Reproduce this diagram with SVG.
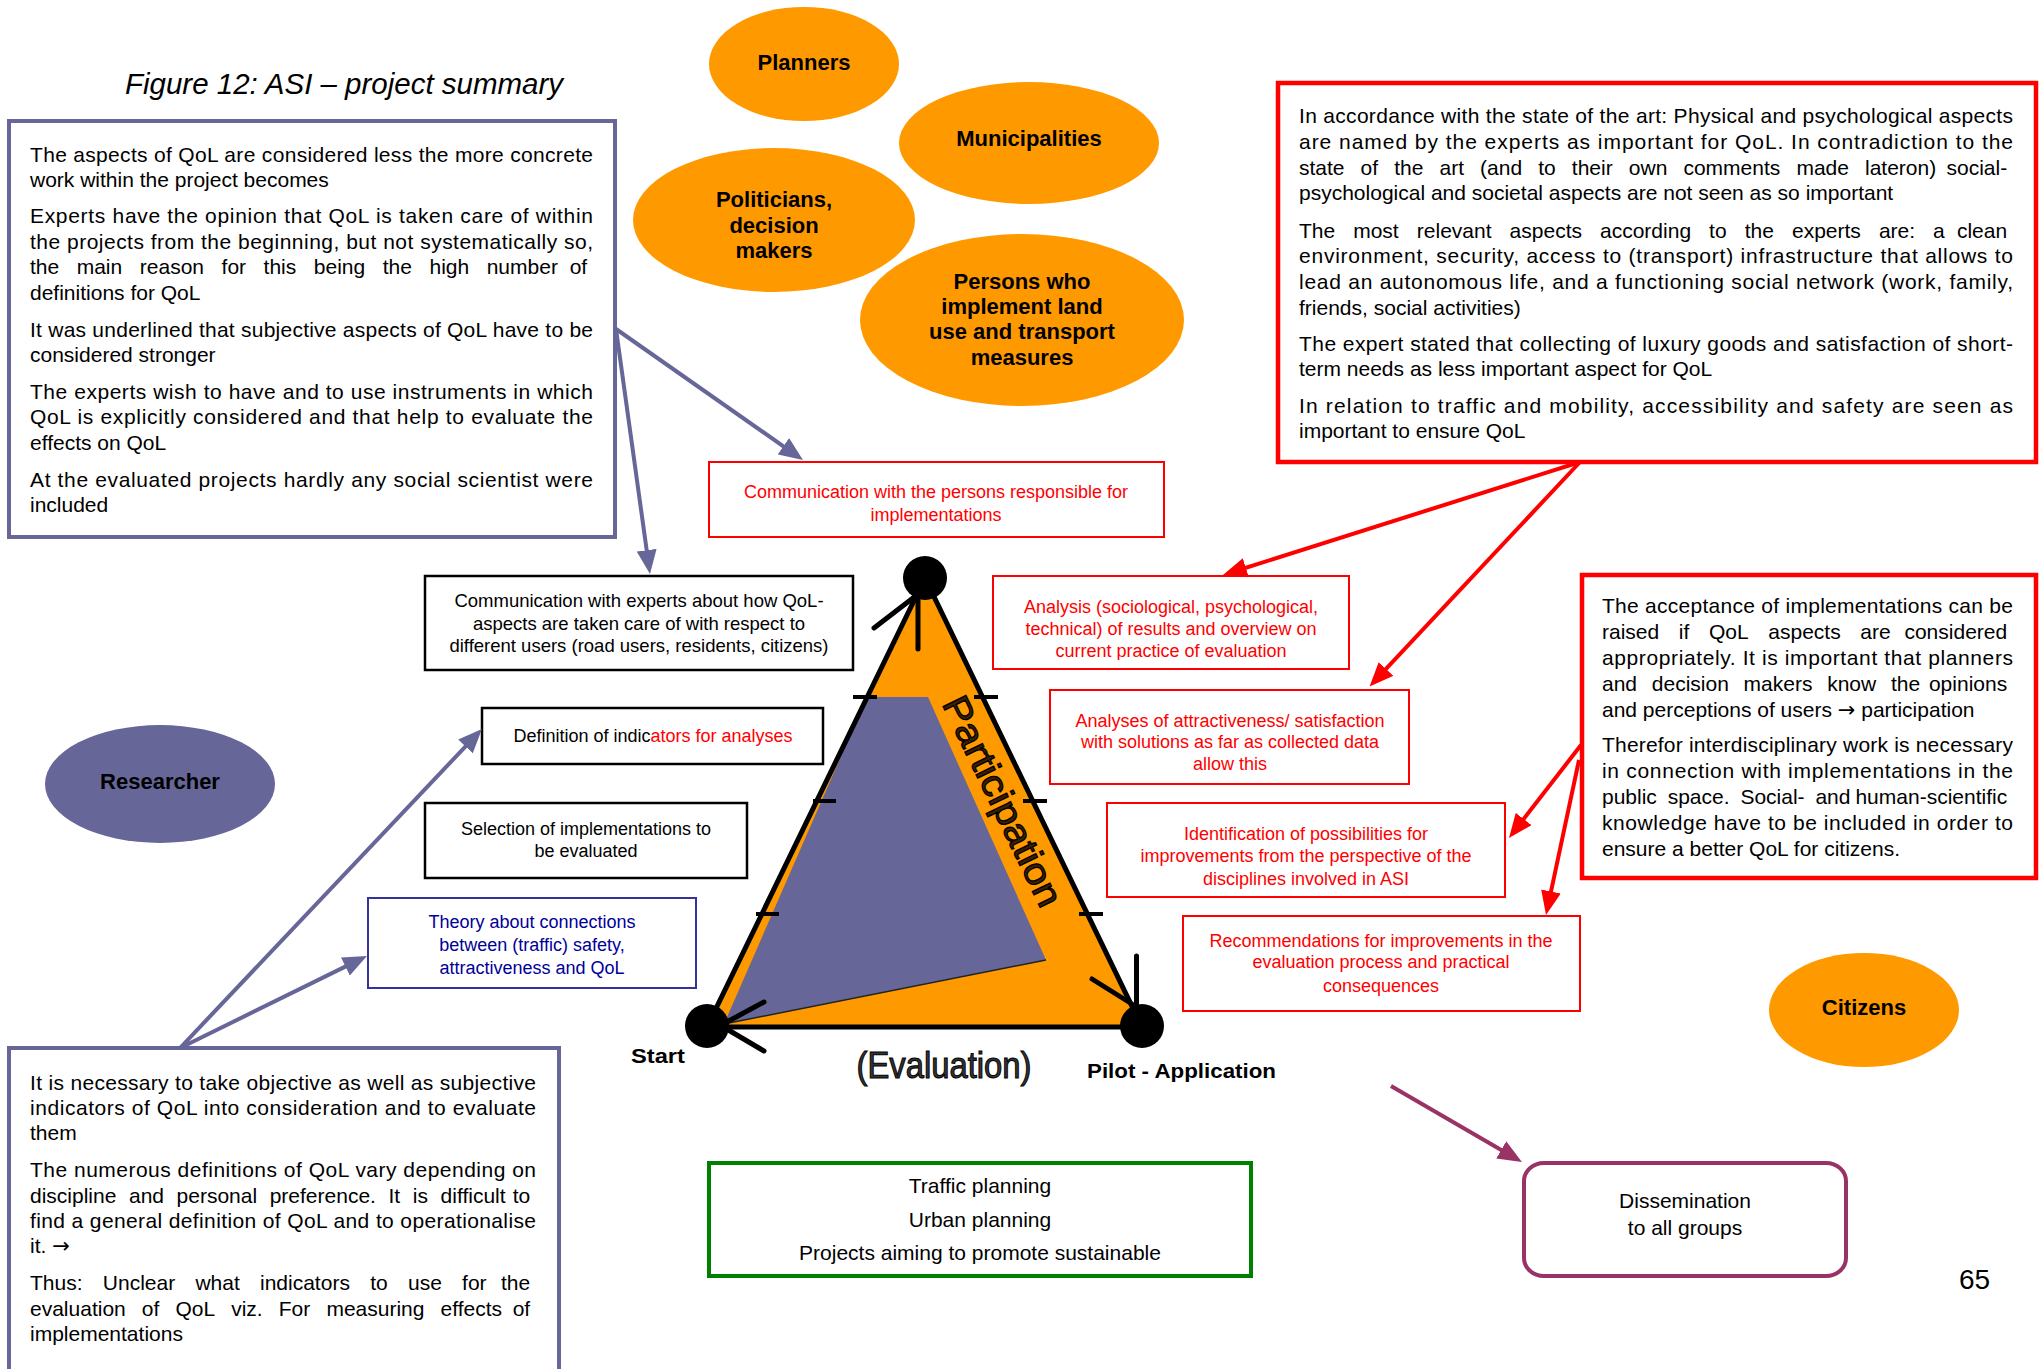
<svg xmlns="http://www.w3.org/2000/svg" width="2044" height="1369" viewBox="0 0 2044 1369">
  <style>
    .body { font-family: "Liberation Sans", Arial, sans-serif; font-size: 21px; fill: #000; }
    .small { font-family: "Liberation Sans", Arial, sans-serif; font-size: 18px; text-anchor: middle; }
    .mid { font-family: "Liberation Sans", Arial, sans-serif; font-size: 21px; text-anchor: middle; fill: #000; }
    .red { fill: #ff0000; }
    .navy { fill: #000099; }
    .blk { fill: #000; }
    .end { text-anchor: end; }
    .arw { font-family: "DejaVu Sans", sans-serif; }
    .bold { font-family: "Liberation Sans", Arial, sans-serif; font-weight: bold; font-size: 22px; text-anchor: middle; fill: #000; }
    .boxP { fill: #fff; stroke: #666699; stroke-width: 4; }
    .boxR { fill: #fff; stroke: #ff0000; stroke-width: 4.5; }
    .boxr { fill: #fff; stroke: #ff0000; stroke-width: 2; }
    .boxK { fill: #fff; stroke: #000; stroke-width: 2.5; }
    .orange { fill: #ff9900; }
    .conP { stroke: #666699; stroke-width: 4; fill: none; marker-end: url(#headP); }
    .conR { stroke: #ff0000; stroke-width: 4; fill: none; marker-end: url(#headR); }
    .conM { stroke: #993366; stroke-width: 4; fill: none; marker-end: url(#headM); }
    .barb { stroke: #000; stroke-width: 5; stroke-linecap: round; fill: none; }
    .tick { stroke: #000; stroke-width: 4; }
  </style>
  <defs>
    <marker id="headP" markerUnits="userSpaceOnUse" markerWidth="24" markerHeight="20" refX="14" refY="10" orient="auto">
      <path d="M0,0 L24,10 L0,20 z" fill="#666699"/>
    </marker>
    <marker id="headR" markerUnits="userSpaceOnUse" markerWidth="24" markerHeight="20" refX="14" refY="10" orient="auto">
      <path d="M0,0 L24,10 L0,20 z" fill="#ff0000"/>
    </marker>
    <marker id="headM" markerUnits="userSpaceOnUse" markerWidth="24" markerHeight="20" refX="14" refY="10" orient="auto">
      <path d="M0,0 L24,10 L0,20 z" fill="#993366"/>
    </marker>
    <clipPath id="clipAnalysis"><rect x="993" y="576" width="356" height="84"/></clipPath>
    <clipPath id="clipPlanning"><rect x="709" y="1162" width="543" height="102"/></clipPath>
  </defs>

  <rect width="2044" height="1369" fill="#fff"/>

  <!-- caption -->
  <text id="title" x="125" y="94" font-family="'Liberation Sans', Arial, sans-serif" font-style="italic" font-size="29" textLength="438" lengthAdjust="spacingAndGlyphs">Figure 12: ASI – project summary</text>

  <!-- expert findings (top left) -->
  <g id="expert-findings">
    <rect class="boxP" x="9" y="121" width="606" height="416"/>
    <text class="body">
      <tspan x="30" y="162" textLength="563" lengthAdjust="spacing">The aspects of QoL are considered less the more concrete</tspan>
      <tspan x="30" y="187">work within the project becomes</tspan>
      <tspan x="30" y="223" textLength="563" lengthAdjust="spacing">Experts have the opinion that QoL is taken care of within</tspan>
      <tspan x="30" y="249" textLength="563" lengthAdjust="spacing">the projects from the beginning, but not systematically so,</tspan>
      <tspan x="30" y="274">the</tspan><tspan x="76.7">main</tspan><tspan x="139.8">reason</tspan><tspan x="221.6">for</tspan><tspan x="263.6">this</tspan><tspan x="313.8">being</tspan><tspan x="382.7">the</tspan><tspan x="429.5">high</tspan><tspan x="486.7">number</tspan><tspan class="end" x="593">of</tspan>
      <tspan x="30" y="300">definitions for QoL</tspan>
      <tspan x="30" y="337" textLength="563" lengthAdjust="spacing">It was underlined that subjective aspects of QoL have to be</tspan>
      <tspan x="30" y="362">considered stronger</tspan>
      <tspan x="30" y="399" textLength="563" lengthAdjust="spacing">The experts wish to have and to use instruments in which</tspan>
      <tspan x="30" y="424" textLength="563" lengthAdjust="spacing">QoL is explicitly considered and that help to evaluate the</tspan>
      <tspan x="30" y="450">effects on QoL</tspan>
      <tspan x="30" y="487" textLength="563" lengthAdjust="spacing">At the evaluated projects hardly any social scientist were</tspan>
      <tspan x="30" y="512">included</tspan>
    </text>
  </g>

  <!-- stakeholder groups -->
  <g id="planners">
    <ellipse class="orange" cx="804" cy="64" rx="95" ry="57"/>
    <text class="bold" x="804" y="70">Planners</text>
  </g>
  <g id="municipalities">
    <ellipse class="orange" cx="1029" cy="143" rx="130" ry="61"/>
    <text class="bold" x="1029" y="146">Municipalities</text>
  </g>
  <g id="politicians">
    <ellipse class="orange" cx="774" cy="220" rx="141" ry="72"/>
    <text class="bold"><tspan x="774" y="207">Politicians,</tspan><tspan x="774" y="233">decision</tspan><tspan x="774" y="258">makers</tspan></text>
  </g>
  <g id="implementers">
    <ellipse class="orange" cx="1022" cy="320" rx="162" ry="86"/>
    <text class="bold"><tspan x="1022" y="289">Persons who</tspan><tspan x="1022" y="314">implement land</tspan><tspan x="1022" y="339">use and transport</tspan><tspan x="1022" y="365">measures</tspan></text>
  </g>
  <g id="citizens">
    <ellipse class="orange" cx="1864" cy="1010" rx="95" ry="57"/>
    <text class="bold" x="1864" y="1015">Citizens</text>
  </g>
  <g id="researcher">
    <ellipse cx="160" cy="784" rx="115" ry="59" fill="#666699"/>
    <text class="bold" x="160" y="789">Researcher</text>
  </g>

  <!-- state of the art (top right) -->
  <g id="state-of-art">
    <rect class="boxR" x="1278" y="83" width="758" height="379"/>
    <text class="body">
      <tspan x="1299" y="123" textLength="714" lengthAdjust="spacing">In accordance with the state of the art: Physical and psychological aspects</tspan>
      <tspan x="1299" y="149" textLength="714" lengthAdjust="spacing">are named by the experts as important for QoL. In contradiction to the</tspan>
      <tspan x="1299" y="175">state</tspan><tspan x="1360.6">of</tspan><tspan x="1394.2">the</tspan><tspan x="1439.5">art</tspan><tspan x="1480.1">(and</tspan><tspan x="1538.2">to</tspan><tspan x="1571.8">their</tspan><tspan x="1628.8">own</tspan><tspan x="1683.4">comments</tspan><tspan x="1796.4">made</tspan><tspan x="1865">lateron)</tspan><tspan class="end" x="2013">social-</tspan>
      <tspan x="1299" y="200">psychological and societal aspects are not seen as so important</tspan>
      <tspan x="1299" y="238">The</tspan><tspan x="1353.2">most</tspan><tspan x="1416.8">relevant</tspan><tspan x="1509.6">aspects</tspan><tspan x="1600">according</tspan><tspan x="1709.1">to</tspan><tspan x="1744.7">the</tspan><tspan x="1792">experts</tspan><tspan x="1878.9">are:</tspan><tspan x="1933.1">a</tspan><tspan class="end" x="2013">clean</tspan>
      <tspan x="1299" y="263" textLength="714" lengthAdjust="spacing">environment, security, access to (transport) infrastructure that allows to</tspan>
      <tspan x="1299" y="289" textLength="714" lengthAdjust="spacing">lead an autonomous life, and a functioning social network (work, family,</tspan>
      <tspan x="1299" y="315">friends, social activities)</tspan>
      <tspan x="1299" y="351" textLength="714" lengthAdjust="spacing">The expert stated that collecting of luxury goods and satisfaction of short-</tspan>
      <tspan x="1299" y="376">term needs as less important aspect for QoL</tspan>
      <tspan x="1299" y="413" textLength="714" lengthAdjust="spacing">In relation to traffic and mobility, accessibility and safety are seen as</tspan>
      <tspan x="1299" y="438">important to ensure QoL</tspan>
    </text>
  </g>

  <!-- acceptance / interdisciplinarity (middle right) -->
  <g id="acceptance">
    <rect class="boxR" x="1582" y="575" width="454" height="303"/>
    <text class="body">
      <tspan x="1602" y="613" textLength="411" lengthAdjust="spacing">The acceptance of implementations can be</tspan>
      <tspan x="1602" y="639">raised</tspan><tspan x="1678.8">if</tspan><tspan x="1709">QoL</tspan><tspan x="1768.3">aspects</tspan><tspan x="1860.3">are</tspan><tspan class="end" x="2013">considered</tspan>
      <tspan x="1602" y="665" textLength="411" lengthAdjust="spacing">appropriately. It is important that planners</tspan>
      <tspan x="1602" y="691">and</tspan><tspan x="1651.8">decision</tspan><tspan x="1743.6">makers</tspan><tspan x="1827.2">know</tspan><tspan x="1891">the</tspan><tspan class="end" x="2013">opinions</tspan>
      <tspan x="1602" y="717">and perceptions of users <tspan class="arw">→</tspan> participation</tspan>
      <tspan x="1602" y="752" textLength="411" lengthAdjust="spacing">Therefor interdisciplinary work is necessary</tspan>
      <tspan x="1602" y="778" textLength="411" lengthAdjust="spacing">in connection with implementations in the</tspan>
      <tspan x="1602" y="804">public</tspan><tspan x="1667.7">space.</tspan><tspan x="1740.4">Social-</tspan><tspan x="1815.4">and</tspan><tspan class="end" x="2013">human-scientific</tspan>
      <tspan x="1602" y="830" textLength="411" lengthAdjust="spacing">knowledge have to be included in order to</tspan>
      <tspan x="1602" y="856">ensure a better QoL for citizens.</tspan>
    </text>
  </g>

  <!-- indicator problem (bottom left) -->
  <g id="indicator-problem">
    <rect class="boxP" x="9" y="1048" width="550" height="340"/>
    <text class="body">
      <tspan x="30" y="1090" textLength="506" lengthAdjust="spacing">It is necessary to take objective as well as subjective</tspan>
      <tspan x="30" y="1115" textLength="506" lengthAdjust="spacing">indicators of QoL into consideration and to evaluate</tspan>
      <tspan x="30" y="1140">them</tspan>
      <tspan x="30" y="1177" textLength="506" lengthAdjust="spacing">The numerous definitions of QoL vary depending on</tspan>
      <tspan x="30" y="1203">discipline</tspan><tspan x="129">and</tspan><tspan x="176.6">personal</tspan><tspan x="269.7">preference.</tspan><tspan x="388.5">It</tspan><tspan x="412.8">is</tspan><tspan x="440.6">difficult</tspan><tspan class="end" x="536">to</tspan>
      <tspan x="30" y="1228" textLength="506" lengthAdjust="spacing">find a general definition of QoL and to operationalise</tspan>
      <tspan x="30" y="1253">it. <tspan class="arw">→</tspan></tspan>
      <tspan x="30" y="1290">Thus:</tspan><tspan x="102.8">Unclear</tspan><tspan x="195.4">what</tspan><tspan x="260">indicators</tspan><tspan x="370.2">to</tspan><tspan x="408">use</tspan><tspan x="462.1">for</tspan><tspan class="end" x="536">the</tspan>
      <tspan x="30" y="1316">evaluation</tspan><tspan x="141.8">of</tspan><tspan x="175.4">QoL</tspan><tspan x="231.2">viz.</tspan><tspan x="278.8">For</tspan><tspan x="326.4">measuring</tspan><tspan x="440.5">effects</tspan><tspan class="end" x="536">of</tspan>
      <tspan x="30" y="1341">implementations</tspan>
    </text>
  </g>

  <!-- project steps -->
  <g id="comm-implementers">
    <rect class="boxr" x="709" y="462" width="455" height="75"/>
    <text class="small red"><tspan x="936" y="498">Communication with the persons responsible for</tspan><tspan x="936" y="521">implementations</tspan></text>
  </g>
  <g id="comm-experts">
    <rect class="boxK" x="425" y="576" width="428" height="94"/>
    <text class="small blk" style="font-size:18.5px"><tspan x="639" y="607">Communication with experts about how QoL-</tspan><tspan x="639" y="630">aspects are taken care of with respect to</tspan><tspan x="639" y="652">different users (road users, residents, citizens)</tspan></text>
  </g>
  <g id="analysis">
    <rect class="boxr" x="993" y="576" width="356" height="93"/>
    <text class="small red" clip-path="url(#clipAnalysis)"><tspan x="1171" y="613">Analysis (sociological, psychological,</tspan><tspan x="1171" y="635">technical) of results and overview on</tspan><tspan x="1171" y="657">current practice of evaluation</tspan></text>
  </g>
  <g id="indicators">
    <rect class="boxK" x="482" y="708" width="341" height="56"/>
    <text class="small blk" x="653" y="742">Definition of indic<tspan class="red">ators for analyses</tspan></text>
  </g>
  <g id="attractiveness">
    <rect class="boxr" x="1050" y="690" width="359" height="94"/>
    <text class="small red"><tspan x="1230" y="727">Analyses of attractiveness/ satisfaction</tspan><tspan x="1230" y="748">with solutions as far as collected data</tspan><tspan x="1230" y="770">allow this</tspan></text>
  </g>
  <g id="selection">
    <rect class="boxK" x="425" y="803" width="322" height="75"/>
    <text class="small blk"><tspan x="586" y="835">Selection of implementations to</tspan><tspan x="586" y="857">be evaluated</tspan></text>
  </g>
  <g id="improvements">
    <rect class="boxr" x="1107" y="803" width="398" height="94"/>
    <text class="small red"><tspan x="1306" y="840">Identification of possibilities for</tspan><tspan x="1306" y="862">improvements from the perspective of the</tspan><tspan x="1306" y="885">disciplines involved in ASI</tspan></text>
  </g>
  <g id="theory">
    <rect x="368" y="898" width="328" height="90" fill="#fff" stroke="#333399" stroke-width="2"/>
    <text class="small navy"><tspan x="532" y="928">Theory about connections</tspan><tspan x="532" y="951">between (traffic) safety,</tspan><tspan x="532" y="974">attractiveness and QoL</tspan></text>
  </g>
  <g id="recommendations">
    <rect class="boxr" x="1183" y="916" width="397" height="95"/>
    <text class="small red"><tspan x="1381" y="947">Recommendations for improvements in the</tspan><tspan x="1381" y="968">evaluation process and practical</tspan><tspan x="1381" y="992">consequences</tspan></text>
  </g>

  <!-- application fields -->
  <g id="planning-fields">
    <rect x="709" y="1163" width="542" height="113" fill="#fff" stroke="#008000" stroke-width="4"/>
    <text class="mid" clip-path="url(#clipPlanning)"><tspan x="980" y="1193">Traffic planning</tspan><tspan x="980" y="1227">Urban planning</tspan><tspan x="980" y="1260">Projects aiming to promote sustainable</tspan></text>
  </g>
  <g id="dissemination">
    <rect x="1524" y="1163" width="322" height="113" rx="20" ry="18" fill="#fff" stroke="#993366" stroke-width="4"/>
    <text class="mid"><tspan x="1685" y="1208">Dissemination</tspan><tspan x="1685" y="1235">to all groups</tspan></text>
  </g>

  <!-- evaluation cycle triangle -->
  <g id="cycle">
    <polygon points="925,578 1142,1027 707,1027" fill="#ff9900"/>
    <polygon points="867,697 928,697 1046,960 724,1024" fill="#666699"/>
    <line x1="724" y1="1024" x2="1046" y2="960" stroke="#222" stroke-width="1.5"/>
    <polygon points="925,578 1142,1027 707,1027" fill="none" stroke="#000" stroke-width="5" stroke-linejoin="round"/>
    <line class="tick" x1="853" y1="697" x2="877" y2="697"/>
    <line class="tick" x1="813" y1="801" x2="836" y2="801"/>
    <line class="tick" x1="756" y1="914" x2="779" y2="914"/>
    <line class="tick" x1="974" y1="697" x2="998" y2="697"/>
    <line class="tick" x1="1023" y1="801" x2="1047" y2="801"/>
    <line class="tick" x1="1079" y1="914" x2="1103" y2="914"/>
    <circle cx="925" cy="578" r="22"/>
    <circle cx="707" cy="1026" r="22"/>
    <circle cx="1142" cy="1026" r="22"/>
    <path class="barb" d="M918,649 L918,600 M874,628 L913,598"/>
    <path class="barb" d="M1136.5,956 L1136.5,1004 M1092,979 L1132,1004"/>
    <path class="barb" d="M764,1002 L725,1023 M725,1028 L764,1051"/>
    <text transform="translate(1003,801) rotate(64.2)" x="0" y="13" font-family="'Liberation Sans', Arial, sans-serif" font-size="37" text-anchor="middle" fill="#3a2000" stroke="#000" stroke-width="1.2" textLength="229" lengthAdjust="spacingAndGlyphs">Participation</text>
    <text x="944" y="1078" font-family="'Liberation Sans', Arial, sans-serif" font-size="36" text-anchor="middle" fill="#333" stroke="#000" stroke-width="1" textLength="175" lengthAdjust="spacingAndGlyphs">(Evaluation)</text>
    <text x="631" y="1063" font-family="'Liberation Sans', Arial, sans-serif" font-weight="bold" font-size="21" textLength="54" lengthAdjust="spacingAndGlyphs">Start</text>
    <text x="1087" y="1078" font-family="'Liberation Sans', Arial, sans-serif" font-weight="bold" font-size="21" textLength="189" lengthAdjust="spacingAndGlyphs">Pilot - Application</text>
  </g>

  <!-- connectors -->
  <g id="connectors">
    <line class="conP" x1="616" y1="329" x2="794.8" y2="454.3"/>
    <line class="conP" x1="616" y1="329" x2="648.6" y2="564.1"/>
    <line class="conP" x1="180" y1="1048" x2="475.1" y2="736.3"/>
    <line class="conP" x1="180" y1="1048" x2="358" y2="960.4"/>
    <line class="conR" x1="1580" y1="462" x2="1232.5" y2="572"/>
    <line class="conR" x1="1580" y1="462" x2="1376.4" y2="679.2"/>
    <line class="conR" x1="1581" y1="745" x2="1515.1" y2="830.1"/>
    <line class="conR" x1="1579" y1="760" x2="1548.1" y2="905.2"/>
    <line class="conM" x1="1391" y1="1086" x2="1513.3" y2="1157"/>
  </g>

  <text id="page-number" x="1959" y="1289" font-family="'Liberation Sans', Arial, sans-serif" font-size="28">65</text>
</svg>
